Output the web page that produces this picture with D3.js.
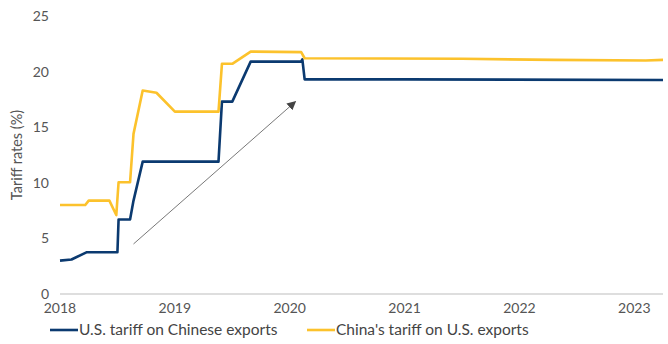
<!DOCTYPE html>
<html>
<head>
<meta charset="utf-8">
<script src="https://cdn.jsdelivr.net/npm/d3@7"></script>
<style>
  body { margin: 0; background: #fff; }
  #chart { width: 668px; height: 344px; }
  text { font-family: Lato, "Open Sans", sans-serif; }
</style>
</head>
<body>
<div id="chart"></div>
<script>
// decimal years
const usDates  = [2018.0, 2018.1, 2018.23, 2018.5, 2018.51, 2018.61, 2018.64, 2018.72, 2019.38, 2019.41, 2019.5, 2019.66, 2020.1, 2020.11, 2020.13, 2021.0, 2023.25];
const usValues = [3.0, 3.1, 3.75, 3.75, 6.7, 6.7, 8.4, 11.9, 11.9, 17.3, 17.3, 20.9, 20.9, 21.1, 19.3, 19.3, 19.25];

const cnDates  = [2018.0, 2018.22, 2018.25, 2018.43, 2018.49, 2018.51, 2018.61, 2018.64, 2018.72, 2018.84, 2019.0, 2019.38, 2019.41, 2019.5, 2019.66, 2020.1, 2020.13, 2021.5, 2022.3, 2023.1, 2023.25];
const cnValues = [8.0, 8.0, 8.4, 8.4, 7.1, 10.05, 10.05, 14.4, 18.3, 18.1, 16.4, 16.4, 20.7, 20.7, 21.8, 21.75, 21.2, 21.15, 21.05, 21.0, 21.05];

const xTicks = [2018, 2019, 2020, 2021, 2022, 2023];
const yTicks = [0, 5, 10, 15, 20, 25];
const seriesNames = ['U.S. tariff on Chinese exports', "China's tariff on U.S. exports"];
const colors = ['#0b3a70', '#fcc22c'];
// arrow annotation: [year, value] start and end
const arrowFrom = [2018.64, 4.5];
const arrowTo   = [2020.05, 17.3];

const width = 668, height = 344;
const margin = { left: 60, right: 5, top: 16, bottom: 50 };

const svg = d3.select('#chart').append('svg')
    .attr('width', width).attr('height', height);

const x = d3.scaleLinear().domain([2018, 2023.25]).range([margin.left, width - margin.right]);
const y = d3.scaleLinear().domain([0, 25]).range([height - margin.bottom, margin.top]);

// y tick labels
svg.append('g').selectAll('text').data(yTicks).join('text')
    .attr('x', 49).attr('y', d => y(d)).attr('dy', '0.35em')
    .attr('text-anchor', 'end').attr('fill', '#555').attr('font-size', 14)
    .text(d => d);

// x axis line + labels
svg.append('line')
    .attr('x1', x(2018)).attr('x2', x(2023.25))
    .attr('y1', y(0)).attr('y2', y(0))
    .attr('stroke', '#bdbdbd').attr('stroke-width', 1.2);

svg.append('g').selectAll('text').data(xTicks).join('text')
    .attr('x', d => x(d)).attr('y', y(0) + 19)
    .attr('text-anchor', 'middle').attr('fill', '#555').attr('font-size', 14)
    .text(d => d);

// y title
svg.append('text')
    .attr('transform', `translate(22,${y(12.5)}) rotate(-90)`)
    .attr('text-anchor', 'middle').attr('fill', '#555').attr('font-size', 14.5)
    .text('Tariff rates (%)');

// arrow
svg.append('defs').append('marker')
    .attr('id', 'arrowhead').attr('viewBox', '0 0 10 10')
    .attr('refX', 9).attr('refY', 5)
    .attr('markerWidth', 9).attr('markerHeight', 9)
    .attr('markerUnits', 'userSpaceOnUse')
    .attr('orient', 'auto')
  .append('path').attr('d', 'M0,0L10,5L0,10z').attr('fill', '#444');

svg.append('line')
    .attr('x1', x(arrowFrom[0])).attr('y1', y(arrowFrom[1]))
    .attr('x2', x(arrowTo[0])).attr('y2', y(arrowTo[1]))
    .attr('stroke', '#555').attr('stroke-width', 0.8)
    .attr('marker-end', 'url(#arrowhead)');

// lines
const line = d3.line().x(d => x(d[0])).y(d => y(d[1]));
const series = [
  d3.zip(usDates, usValues),
  d3.zip(cnDates, cnValues)
];

svg.append('g').selectAll('path').data(series).join('path')
    .attr('d', line)
    .attr('fill', 'none')
    .attr('stroke', (d, i) => colors[i])
    .attr('stroke-width', 2.6)
    .attr('stroke-linejoin', 'round');

// legend
const legendX = [50, 307];
const legend = svg.append('g').selectAll('g').data(seriesNames).join('g')
    .attr('transform', (d, i) => `translate(${legendX[i]},${330})`);
legend.append('line')
    .attr('x1', 0).attr('x2', 28)
    .attr('stroke', (d, i) => colors[i]).attr('stroke-width', 2.6);
legend.append('text')
    .attr('x', 29).attr('dy', '0.35em')
    .attr('fill', '#444').attr('font-size', 15.5)
    .text(d => d);
</script>
</body>
</html>
